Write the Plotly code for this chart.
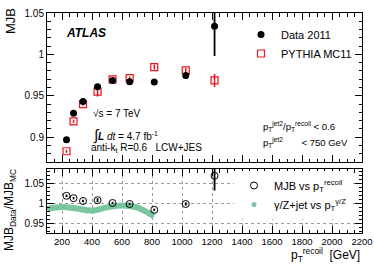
import plotly.graph_objects as go

# ---------------- data ----------------
pt_recoil = [230, 277, 340, 437, 537, 651, 815, 1025, 1217]
mjb_data = [0.897, 0.929, 0.943, 0.961, 0.9685, 0.967, 0.9665, 0.9746, 1.034]
mjb_data_err = [0.003, 0.002, 0.002, 0.002, 0.002, 0.002, 0.002, 0.004, 0.036]
mjb_mc = [0.883, 0.919, 0.940, 0.955, 0.9697, 0.9713, 0.9847, 0.9806, 0.9685]
mjb_mc_err = [0.002, 0.002, 0.002, 0.006, 0.002, 0.002, 0.003, 0.003, 0.008]
ratio = [1.018, 1.012, 1.005, 1.007, 1.000, 0.9975, 0.983, 0.9975, 1.068]
ratio_err = [0.003, 0.003, 0.003, 0.005, 0.003, 0.003, 0.003, 0.004, 0.037]
gz_pt = [100, 200, 300, 400, 500, 600, 700, 800, 815]
gz_ratio = [0.985, 0.990, 0.986, 0.981, 0.989, 0.994, 0.989, 0.970, 0.967]

top_ticks = [0.9, 0.95, 1.0, 1.05]
top_tick_text = ["0.9", "0.95", "1", "1.05"]
bot_ticks = [0.95, 1.0, 1.05]
bot_tick_text = ["0.95", "1", "1.05"]

# ---------------- layout helpers ----------------
W, H = 374, 268
L, R, T, B = 47, 12, 13, 35
PW, PH = W - L - R, H - T - B
def px(x):
    return (x - L) / PW
def py(y):
    return (H - B - y) / PH

FONT = "Liberation Sans, Arial, Helvetica, sans-serif"
GREEN = "rgba(115,195,155,0.95)"

fig = go.Figure()

# top panel
fig.add_trace(go.Scatter(
    x=pt_recoil, y=mjb_mc, mode="markers", name="PYTHIA MC11",
    marker=dict(symbol="square-open", size=7, color="#e8141e", line=dict(width=1.2)),
    error_y=dict(type="data", array=mjb_mc_err, width=0, thickness=1.5, color="#e8141e"),
    xaxis="x", yaxis="y", legend="legend", legendrank=2))
fig.add_trace(go.Scatter(
    x=pt_recoil, y=mjb_data, mode="markers", name="Data 2011",
    marker=dict(symbol="circle", size=7, color="black"),
    error_y=dict(type="data", array=mjb_data_err, width=0, thickness=1.8, color="black"),
    xaxis="x", yaxis="y", legend="legend", legendrank=1))

# bottom panel
fig.add_trace(go.Scatter(
    x=gz_pt, y=gz_ratio, mode="lines", line=dict(color=GREEN, width=6, shape="spline"),
    showlegend=False, xaxis="x2", yaxis="y2"))
fig.add_trace(go.Scatter(
    x=pt_recoil, y=ratio, mode="markers", name="MJB vs p<sub>T</sub><sup>recoil</sup>",
    marker=dict(symbol="circle-open", size=7, color="black", line=dict(width=1)),
    error_y=dict(type="data", array=ratio_err, width=0, thickness=1.8, color="black"),
    xaxis="x2", yaxis="y2", legend="legend2", legendrank=1))
fig.add_trace(go.Scatter(
    x=[None], y=[None], mode="markers", name="γ/Z+jet vs p<sub>T</sub><sup>γ/Z</sup>",
    marker=dict(symbol="circle", size=5, color=GREEN),
    xaxis="x2", yaxis="y2", legend="legend2", legendrank=2))

axis_common = dict(showline=True, linecolor="black", linewidth=1, mirror="allticks",
                   ticks="inside", tickcolor="black", ticklen=7, tickwidth=1,
                   zeroline=False)

fig.update_layout(
    width=W, height=H,
    margin=dict(l=L, r=R, t=T, b=B, autoexpand=False),
    paper_bgcolor="white", plot_bgcolor="white",
    font=dict(family=FONT, size=10, color="black"),
    xaxis=dict(domain=[0, 1], anchor="y", range=[100, 2200], dtick=200, tick0=0,
               showticklabels=False, showgrid=False,
               minor=dict(dtick=50, ticklen=3.5, tickcolor="black", ticks="inside"),
               **axis_common),
    yaxis=dict(domain=[py(162), 1], anchor="x", range=[0.87, 1.05],
               tickvals=top_ticks, ticktext=top_tick_text, showgrid=False,
               tickfont=dict(size=10),
               minor=dict(dtick=0.01, tick0=0.87, ticklen=3.5, tickcolor="black", ticks="inside"),
               **axis_common),
    xaxis2=dict(domain=[0, 1], anchor="y2", range=[100, 2200], dtick=200, tick0=0,
                showticklabels=True, tickfont=dict(size=9.5),
                showgrid=True, gridcolor="#9a9a9a", griddash="dot", gridwidth=1,
                minor=dict(dtick=50, ticklen=3.5, tickcolor="black", ticks="inside"),
                **axis_common),
    yaxis2=dict(domain=[0, py(169)], anchor="x2", range=[0.925, 1.085],
                tickvals=bot_ticks, ticktext=bot_tick_text, tickfont=dict(size=10),
                showgrid=True, gridcolor="#9a9a9a", griddash="dot", gridwidth=1,
                minor=dict(dtick=0.01, tick0=0.93, ticklen=3, tickcolor="black", ticks="inside"),
                **axis_common),
    legend=dict(x=px(357), y=py(20), xanchor="right", yanchor="top",
                bgcolor="rgba(0,0,0,0)", font=dict(size=11), itemwidth=30,
                tracegroupgap=0),
    legend2=dict(x=px(352), y=py(171), xanchor="right", yanchor="top",
                 bgcolor="white", font=dict(size=11), itemwidth=30),
    showlegend=True,
)

ann = []
def text(x, y, s, size=10, xanchor="left", **kw):
    ann.append(dict(x=px(x), y=py(y), xref="paper", yref="paper", text=s,
                    showarrow=False, xanchor=xanchor, yanchor="middle",
                    font=dict(size=size, family=FONT, color="black"), **kw))

text(64, 33, "<b><i>ATLAS</i></b>", size=12)
text(91, 113, "√s = 7 TeV", size=10)
text(91, 135, "<span style='font-size:15px'>∫</span><b><i>L</i></b><i> dt</i> = 4.7 fb<sup>-1</sup>", size=10)
text(89, 148, "anti-k<sub>t</sub> R=0.6   LCW+JES", size=10)
text(261, 126, "p<sub>T</sub><sup>jet2</sup>/p<sub>T</sub><sup>recoil</sup> &lt; 0.6", size=9.5)
text(261, 142, "p<sub>T</sub><sup>jet2</sup>       &lt; 750 GeV", size=9.5)
# axis titles
text(10, 21, "MJB", size=13, xanchor="center", textangle=-90)
text(10, 210, "MJB<sub>Data</sub>/MJB<sub>MC</sub>", size=12, xanchor="center", textangle=-90)
text(362, 255, "p<sub>T</sub><sup>recoil</sup>  [GeV]", size=12, xanchor="right")

fig.update_layout(annotations=ann)
fig.write_html("out.html", post_script="document.body.style.margin='0px';",
               config={"displayModeBar": False})
